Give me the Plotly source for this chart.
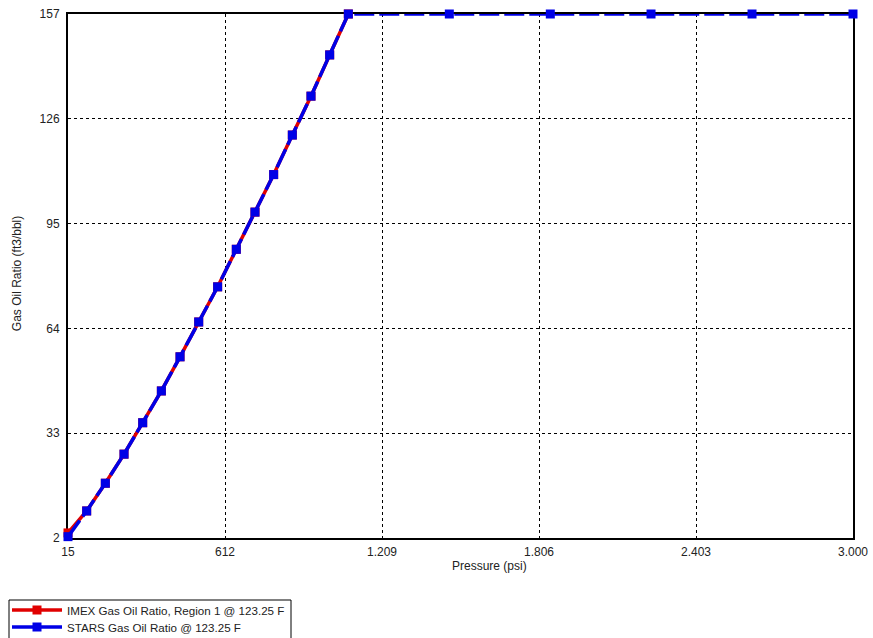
import plotly.graph_objects as go

# Pressure table (psi) and solution gas-oil ratio (ft3/bbl)
pressure = [15, 86, 157, 228, 299, 370, 441, 512, 584, 655, 726, 797,
            868, 939, 1010, 1081, 1465, 1849, 2232, 2616, 3000]
stars_gor = [2.4, 10.0, 18.2, 26.8, 36.1, 45.5, 55.6, 65.9, 76.3, 87.4, 98.4,
             109.5, 121.2, 132.7, 144.9, 157, 157, 157, 157, 157, 157]
imex_pressure = [15, 86, 157, 228, 299, 370, 441, 512, 584, 655, 726, 797,
                 868, 939, 1010, 1081]
imex_gor = [3.5, 10.0, 18.2, 26.8, 36.1, 45.5, 55.6, 65.9, 76.3, 87.4, 98.4,
            109.5, 121.2, 132.7, 144.9, 157]

x_ticks = [15, 612, 1209, 1806, 2403, 3000]
x_tick_text = ["15", "612", "1.209", "1.806", "2.403", "3.000"]
y_ticks = [2, 33, 64, 95, 126, 157]

RED = "#e00000"
BLUE = "#0000e6"
FONT = "Liberation Sans, Arial, sans-serif"
W, H = 873, 638
IMEX_NAME = "IMEX Gas Oil Ratio, Region 1 @ 123.25 F"
STARS_NAME = "STARS Gas Oil Ratio @ 123.25 F"

fig = go.Figure()
fig.add_trace(go.Scatter(
    x=imex_pressure, y=imex_gor, mode="lines+markers", name=IMEX_NAME,
    line=dict(color=RED, width=3.5),
    marker=dict(symbol="square", size=9, color=RED),
    cliponaxis=False, legend="legend",
))
fig.add_trace(go.Scatter(
    x=pressure, y=stars_gor, mode="lines+markers", name=STARS_NAME,
    line=dict(color=BLUE, width=3.5, dash="20px,5px"),
    marker=dict(symbol="square", size=9, color=BLUE),
    cliponaxis=False, showlegend=False,
))
# Legend key for the STARS curve (solid swatch)
fig.add_trace(go.Scatter(
    x=[None], y=[None], mode="lines+markers", name=STARS_NAME,
    line=dict(color=BLUE, width=3.5),
    marker=dict(symbol="square", size=9, color=BLUE),
    legend="legend2",
))

axis_common = dict(
    showline=True, linecolor="black", linewidth=2, mirror=True,
    showgrid=True, gridcolor="black", gridwidth=1, griddash="3px,3px",
    zeroline=False, ticks="", layer="below traces",
    tickfont=dict(family=FONT, size=12, color="#222"),
)

fig.update_xaxes(range=[15, 3000], tickvals=x_ticks, ticktext=x_tick_text,
                 ticklabelstandoff=2, **axis_common)
fig.update_yaxes(range=[2, 157], tickvals=y_ticks, ticklabelstandoff=4,
                 **axis_common)

fig.add_annotation(text="Pressure (psi)", xref="paper", yref="paper",
                   x=0.537, y=-0.054, xanchor="center", yanchor="middle",
                   showarrow=False, font=dict(family=FONT, size=12, color="#222"))
fig.add_annotation(text="Gas Oil Ratio (ft3/bbl)", xref="paper", yref="paper",
                   x=-0.064, y=0.505, xanchor="center", yanchor="middle",
                   textangle=-90, showarrow=False,
                   font=dict(family=FONT, size=12, color="#222"))

# Frame around the two legend rows
fig.add_shape(type="rect", xref="paper", yref="paper",
              x0=(9 - 68) / 785, x1=(291 - 68) / 785,
              y0=(538 - 600) / 524, y1=(538 - 645) / 524,
              line=dict(color="black", width=1), fillcolor="white",
              layer="below")

legend_common = dict(
    xref="container", yref="container", xanchor="left", yanchor="middle",
    bgcolor="rgba(0,0,0,0)", borderwidth=0,
    font=dict(family=FONT, size=11.6, color="#222"), itemwidth=50,
)

fig.update_layout(
    width=W, height=H,
    margin=dict(l=68, r=20, t=14, b=100, autoexpand=False),
    paper_bgcolor="white", plot_bgcolor="white",
    font=dict(family=FONT, size=12, color="#222"),
    showlegend=True,
    legend=dict(x=7 / W, y=1 - 610 / H, **legend_common),
    legend2=dict(x=7 / W, y=1 - 627 / H, **legend_common),
)

fig.write_html("out.html")
